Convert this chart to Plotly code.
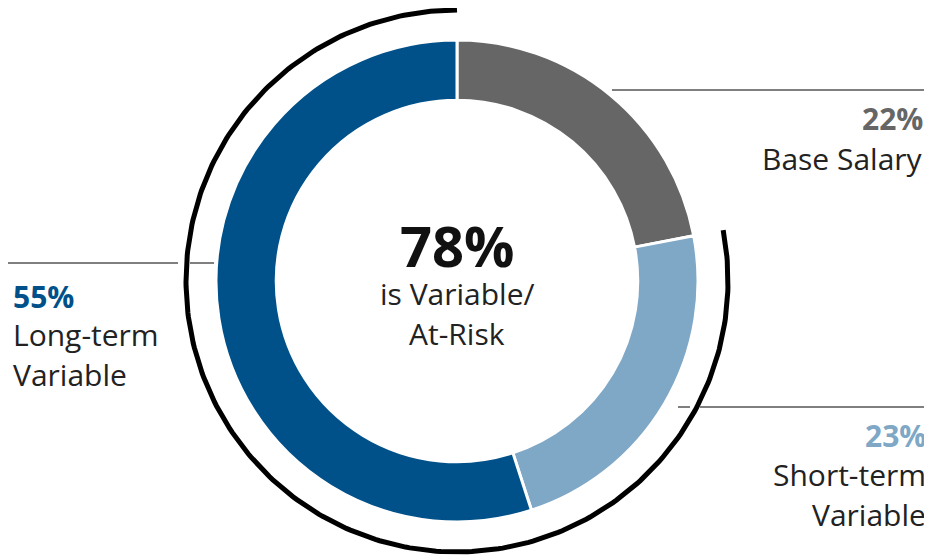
import numpy as np
import plotly.graph_objects as go

labels = ["Base Salary", "Short-term Variable", "Long-term Variable"]
shares = [22, 23, 55]
colors = ["#666666", "#7FA7C6", "#00518A"]

W, H = 932, 560
OFF = 8  # page body margin
cx, cy, R = 457, 281, 241
fig = go.Figure()
fig.add_trace(go.Pie(values=shares, labels=labels, hole=0.75, sort=False, direction="clockwise",
                     rotation=0, marker=dict(colors=colors, line=dict(color="white", width=3)),
                     textinfo="none", hoverinfo="label+percent", showlegend=False,
                     domain=dict(x=[(cx-OFF-R)/W, (cx-OFF+R)/W], y=[(H-(cy-OFF)-R)/H, (H-(cy-OFF)+R)/H])))

start = shares[0] / 100 * 2 * np.pi
t = np.linspace(start, 2 * np.pi, 300)
ra = 271
fig.add_trace(go.Scatter(x=cx + ra*np.sin(t), y=cy - ra*np.cos(t), mode="lines",
                         line=dict(color="black", width=5), hoverinfo="skip", showlegend=False))
for x0, x1, y in [(8, 178, 263), (190, 214, 263), (612, 940, 90), (678, 690, 407), (700, 940, 407)]:
    fig.add_shape(type="line", x0=x0, x1=x1, y0=y, y1=y, line=dict(color="black", width=1))

F = "Open Sans"
def txt(x, y, s, size, color, anchor, bold=False):
    fig.add_annotation(x=x, y=y, text=f"<b>{s}</b>" if bold else s, showarrow=False,
                       xanchor=anchor, yanchor="middle", font=dict(family=F, size=size, color=color))

txt(925, 118, "22%", 30, "#666666", "right", True)
txt(925, 158, "Base Salary", 30, "#222", "right")
txt(457, 245, "78%", 56, "#111", "center", True)
txt(457, 293, "is Variable/", 30, "#222", "center")
txt(457, 333, "At-Risk", 30, "#222", "center")
txt(11, 296, "55%", 30, "#00518A", "left", True)
txt(11, 334, "Long-term", 30, "#222", "left")
txt(11, 374, "Variable", 30, "#222", "left")
txt(928, 435, "23%", 30, "#7FA7C6", "right", True)
txt(928, 474, "Short-term", 30, "#222", "right")
txt(928, 514, "Variable", 30, "#222", "right")

fig.update_layout(width=W, height=H, margin=dict(l=0, r=0, t=0, b=0),
                  paper_bgcolor="white", plot_bgcolor="rgba(0,0,0,0)",
                  xaxis=dict(range=[OFF, W+OFF], visible=False, fixedrange=True),
                  yaxis=dict(range=[H+OFF, OFF], visible=False, fixedrange=True))
fig.write_html("out.html")
